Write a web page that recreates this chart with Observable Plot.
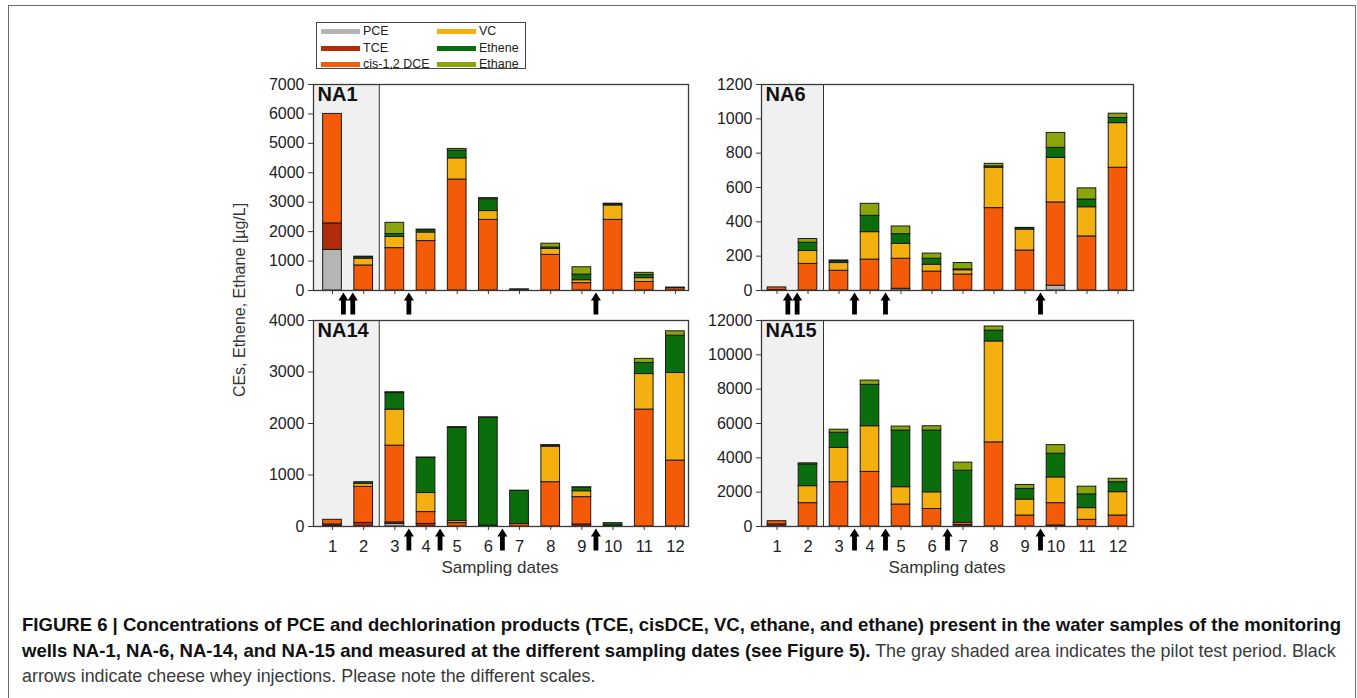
<!DOCTYPE html>
<html>
<head>
<meta charset="utf-8">
<script src="https://cdn.jsdelivr.net/npm/d3@7"></script>
<script src="https://cdn.jsdelivr.net/npm/@observablehq/plot@0.6"></script>
<style>
  html, body { margin: 0; padding: 0; background: #fff; }
  body { width: 1357px; height: 698px; position: relative; overflow: hidden;
         font-family: "Liberation Sans", Arial, sans-serif; color: #222; }
  #border { position: absolute; left: 8px; top: 5px; width: 1346px; height: 720px;
            border: 1px solid #6a6a6a; border-bottom: none; }
  .abs { position: absolute; }
  .legend { left: 316px; top: 22px; width: 208px; height: 45px; border: 1px solid #454545; background: #fff; }
  .legend .item { position: absolute; font-size: 12.5px; line-height: 14px; white-space: nowrap; }
  .legend .sw { position: absolute; width: 39px; height: 5px; }
  .ylabel { left: 240px; top: 300px; transform: translate(-50%, -50%) rotate(-90deg);
            font-size: 16px; white-space: nowrap; color: #333; }
  .xlabel { font-size: 17px; color: #333; transform: translateX(-50%); white-space: nowrap; }
  .caption { left: 22px; font-size: 17.9px; line-height: 20px; white-space: nowrap; color: #3a3a3a; }
  .caption b { color: #111; font-size: 18.55px; }
</style>
</head>
<body>
<div id="border"></div>
<div id="root"></div>
<script>
// Species, stacked bottom to top
const species = ["PCE", "TCE", "cis-1,2 DCE", "VC", "Ethene", "Ethane"];
const speciesColors = ["#b5b5b5", "#b02c0b", "#f45b08", "#f4b00e", "#0a6e0c", "#8aa50b"];
const dates = [1, 2, 3, 4, 5, 6, 7, 8, 9, 10, 11, 12];

// Pilot test period (shaded) ends between sampling dates 2 and 3
const pilotEnd = 2.5;

// Concentrations [µg/L] per sampling date, one array per species
const na1PCE    = [1380, 0, 0, 0, 0, 0, 0, 0, 0, 0, 0, 0];
const na1TCE    = [900, 0, 0, 0, 0, 0, 0, 0, 0, 0, 0, 0];
const na1DCE    = [3720, 850, 1440, 1680, 3770, 2400, 0, 1210, 250, 2400, 290, 80];
const na1VC     = [0, 230, 380, 290, 720, 300, 0, 200, 100, 490, 130, 0];
const na1Ethene = [0, 50, 100, 80, 260, 400, 10, 50, 190, 40, 110, 20];
const na1Ethane = [0, 20, 380, 20, 60, 40, 30, 130, 250, 20, 70, 0];

const na6PCE    = [0, 0, 0, 0, 10, 0, 0, 0, 0, 28, 0, 0];
const na6TCE    = [3, 0, 0, 0, 0, 0, 0, 0, 0, 0, 0, 0];
const na6DCE    = [15, 155, 115, 180, 175, 110, 93, 480, 233, 485, 315, 715];
const na6VC     = [0, 75, 45, 160, 87, 40, 25, 235, 122, 260, 170, 260];
const na6Ethene = [0, 48, 10, 95, 56, 35, 5, 8, 8, 58, 45, 30];
const na6Ethane = [0, 22, 5, 70, 45, 30, 37, 15, 2, 87, 65, 25];

const na14PCE    = [10, 0, 50, 0, 0, 0, 0, 0, 0, 0, 0, 0];
const na14TCE    = [30, 70, 30, 50, 0, 0, 0, 0, 40, 0, 0, 0];
const na14DCE    = [90, 700, 1490, 230, 65, 20, 50, 860, 530, 20, 2270, 1280];
const na14VC     = [0, 60, 700, 370, 40, 0, 0, 690, 115, 0, 690, 1700];
const na14Ethene = [0, 30, 320, 680, 1810, 2090, 640, 20, 70, 45, 215, 725];
const na14Ethane = [0, 0, 17, 10, 15, 10, 5, 10, 5, 0, 80, 85];

const na15PCE    = [0, 0, 0, 0, 0, 0, 0, 0, 0, 0, 0, 0];
const na15TCE    = [120, 0, 0, 0, 0, 0, 80, 0, 0, 60, 0, 0];
const na15DCE    = [190, 1360, 2580, 3180, 1280, 1020, 140, 4900, 640, 1300, 390, 640];
const na15VC     = [0, 990, 2000, 2660, 1010, 970, 0, 5880, 930, 1500, 680, 1360];
const na15Ethene = [0, 1260, 880, 2410, 3300, 3600, 3030, 630, 620, 1380, 800, 580];
const na15Ethane = [0, 70, 180, 250, 230, 250, 470, 240, 230, 500, 450, 200];

// Cheese whey injections (between sampling dates)
const injNA1  = [1.35, 1.65, 3.45, 9.45];
const injNA6  = [1.35, 1.65, 3.5, 4.5, 9.5];
const injNA14 = [3.45, 4.45, 6.45, 9.45];
const injNA15 = [3.5, 4.5, 6.5, 9.5];

// y-axis tick values per well
const yTicksNA1  = [0, 1000, 2000, 3000, 4000, 5000, 6000, 7000];
const yTicksNA6  = [0, 200, 400, 600, 800, 1000, 1200];
const yTicksNA14 = [0, 1000, 2000, 3000, 4000];
const yTicksNA15 = [0, 2000, 4000, 6000, 8000, 10000, 12000];

const panels = [
  {name: "NA1",  series: [na1PCE, na1TCE, na1DCE, na1VC, na1Ethene, na1Ethane],
   ticks: yTicksNA1, inj: injNA1, left: 313, top: 84, width: 375, xDomain: [0.39, 12.42], labels: false},
  {name: "NA6",  series: [na6PCE, na6TCE, na6DCE, na6VC, na6Ethene, na6Ethane],
   ticks: yTicksNA6, inj: injNA6, left: 761, top: 84, width: 372, xDomain: [0.5, 12.5], labels: false},
  {name: "NA14", series: [na14PCE, na14TCE, na14DCE, na14VC, na14Ethene, na14Ethane],
   ticks: yTicksNA14, inj: injNA14, left: 313, top: 320, width: 375, xDomain: [0.39, 12.42], labels: true},
  {name: "NA15", series: [na15PCE, na15TCE, na15DCE, na15VC, na15Ethene, na15Ethane],
   ticks: yTicksNA15, inj: injNA15, left: 761, top: 320, width: 372, xDomain: [0.5, 12.5], labels: true}
];

// Solid upward arrow for the injection markers
const arrowShape = {
  draw(ctx, l) {
    const hw = 2.4, hh = 5, hl = 8;
    ctx.moveTo(-hw, 0);
    ctx.lineTo(-hw, -l + hl);
    ctx.lineTo(-hh, -l + hl);
    ctx.lineTo(0, -l);
    ctx.lineTo(hh, -l + hl);
    ctx.lineTo(hw, -l + hl);
    ctx.lineTo(hw, 0);
    ctx.closePath();
  }
};

const root = document.getElementById("root");
const plotH = 206;

for (const p of panels) {
  const rows = [];
  species.forEach((s, i) => p.series[i].forEach((v, j) => {
    if (v > 0) rows.push({date: dates[j], species: s, value: v});
  }));
  const yMax = p.ticks[p.ticks.length - 1];
  const mL = 70, mT = 6, mR = 8, mB = p.labels ? 40 : 28;
  const chart = Plot.plot({
    width: mL + p.width + mR,
    height: mT + plotH + mB,
    marginLeft: mL, marginTop: mT, marginRight: mR, marginBottom: mB,
    style: {background: "transparent", overflow: "visible",
            fontFamily: "'Liberation Sans', Arial, sans-serif", color: "#222"},
    x: {domain: p.xDomain, axis: null},
    y: {domain: [0, yMax], axis: null},
    color: {domain: species, range: speciesColors},
    marks: [
      Plot.rect([{start: 0, end: pilotEnd}], {x1: "start", x2: "end", fill: "#f0f0f0", clip: true}),
      Plot.ruleX([pilotEnd], {stroke: "#333", strokeWidth: 1}),
      Plot.rectY(rows, Plot.stackY({
        x1: d => d.date - 0.3, x2: d => d.date + 0.3,
        y: "value", z: "species", order: species,
        fill: "species", stroke: "#1a1a1a", strokeWidth: 1
      })),
      Plot.frame({stroke: "#3a3a3a", strokeWidth: 1.3}),
      Plot.axisY({ticks: p.ticks, tickFormat: d3.format("d"), tickSize: 5, tickPadding: 4,
                  fontSize: 16, label: null, stroke: "#3a3a3a"}),
      Plot.axisX({ticks: dates, tickSize: 4, tickPadding: 10, fontSize: 16.5, label: null, stroke: "#3a3a3a",
                  tickFormat: p.labels ? (d => d) : (() => "")}),
      Plot.text([p.name], {frameAnchor: "top-left", dx: 4, dy: 2, lineAnchor: "top",
                           fontSize: 20, fontWeight: "bold", fill: "#111"}),
      Plot.vector(p.inj.map(x => ({x, y: 0})), {x: "x", y: "y", length: 22, rotate: 0, anchor: "start",
                  dy: 24, shape: arrowShape, fill: "#000", stroke: "none"})
    ]
  });
  chart.style.position = "absolute";
  chart.style.left = (p.left - mL) + "px";
  chart.style.top = (p.top - mT) + "px";
  root.appendChild(chart);
}

// Legend
const legend = document.createElement("div");
legend.className = "abs legend";
species.forEach((s, i) => {
  const col = i < 3 ? 0 : 1, row = i % 3;
  const sw = document.createElement("div");
  sw.className = "sw";
  sw.style.left = (col ? 120 : 4) + "px";
  sw.style.top = (6 + row * 16.5) + "px";
  sw.style.background = speciesColors[i];
  legend.appendChild(sw);
  const lab = document.createElement("div");
  lab.className = "item";
  lab.style.left = (col ? 162 : 46) + "px";
  lab.style.top = (1 + row * 16.5) + "px";
  lab.textContent = s;
  legend.appendChild(lab);
});
root.appendChild(legend);

// Shared axis titles
const yl = document.createElement("div");
yl.className = "abs ylabel";
yl.textContent = "CEs, Ethene, Ethane [µg/L]";
root.appendChild(yl);
for (const cx of [500, 947]) {
  const xl = document.createElement("div");
  xl.className = "abs xlabel";
  xl.style.left = cx + "px";
  xl.style.top = "558px";
  xl.textContent = "Sampling dates";
  root.appendChild(xl);
}

// Figure caption
const captionLines = [
  "<b>FIGURE 6 | Concentrations of PCE and dechlorination products (TCE, cisDCE, VC, ethane, and ethane) present in the water samples of the monitoring</b>",
  "<b>wells NA-1, NA-6, NA-14, and NA-15 and measured at the different sampling dates (see Figure 5).</b> The gray shaded area indicates the pilot test period. Black",
  "arrows indicate cheese whey injections. Please note the different scales."
];
captionLines.forEach((html, i) => {
  const c = document.createElement("div");
  c.className = "abs caption";
  c.style.top = (615 + i * 25.5) + "px";
  c.innerHTML = html;
  root.appendChild(c);
});
</script>
</body>
</html>
